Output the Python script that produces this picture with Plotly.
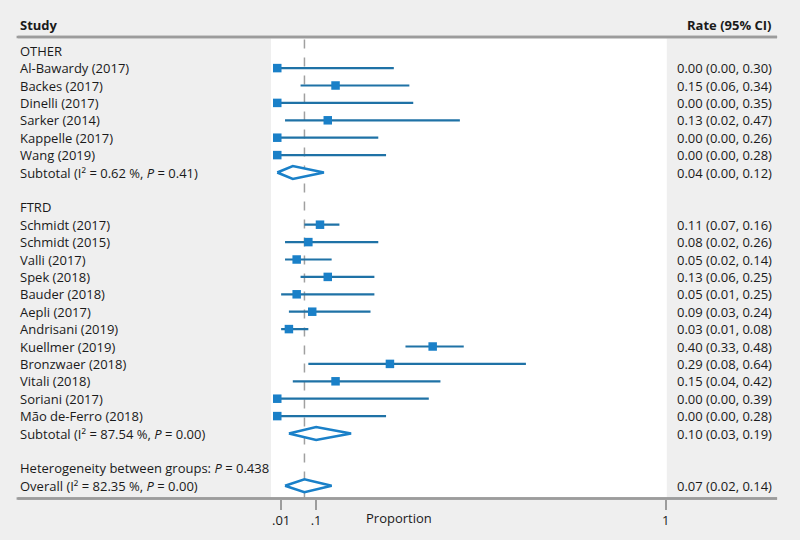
import plotly.graph_objects as go

# ---------------- data ----------------
other_studies = ["Al-Bawardy (2017)", "Backes (2017)", "Dinelli (2017)", "Sarker (2014)",
                 "Kappelle (2017)", "Wang (2019)"]
other_est = [0.00, 0.15, 0.00, 0.13, 0.00, 0.00]
other_lo = [0.00, 0.06, 0.00, 0.02, 0.00, 0.00]
other_hi = [0.30, 0.34, 0.35, 0.47, 0.26, 0.28]
other_sub = (0.04, 0.00, 0.12)
other_sub_label = "Subtotal (I² = 0.62 %, <i>P</i> = 0.41)"

ftrd_studies = ["Schmidt (2017)", "Schmidt (2015)", "Valli (2017)", "Spek (2018)", "Bauder (2018)",
                "Aepli (2017)", "Andrisani (2019)", "Kuellmer (2019)", "Bronzwaer (2018)",
                "Vitali (2018)", "Soriani (2017)", "Mão de-Ferro (2018)"]
ftrd_est = [0.11, 0.08, 0.05, 0.13, 0.05, 0.09, 0.03, 0.40, 0.29, 0.15, 0.00, 0.00]
ftrd_lo = [0.07, 0.02, 0.02, 0.06, 0.01, 0.03, 0.01, 0.33, 0.08, 0.04, 0.00, 0.00]
ftrd_hi = [0.16, 0.26, 0.14, 0.25, 0.25, 0.24, 0.08, 0.48, 0.64, 0.42, 0.39, 0.28]
ftrd_sub = (0.10, 0.03, 0.19)
ftrd_sub_label = "Subtotal (I² = 87.54 %, <i>P</i> = 0.00)"

heterogeneity_label = "Heterogeneity between groups: <i>P</i> = 0.438"
overall = (0.07, 0.02, 0.14)
overall_label = "Overall (I² = 82.35 %, <i>P</i> = 0.00)"

tick_vals = [0.01, 0.1, 1]
tick_text = [".01", ".1", "1"]

# ---------------- layout constants ----------------
W, H = 800, 540
FONT = "Open Sans"
TXT = "#1a1a1a"
BG = "#efefef"
LINE_C = "#1f72a6"
MARK_C = "#1a80c8"
RULE_C = "#9c9c9c"
FS = 13

def fmt(e, l, h):
    return f"{e:.2f} ({l:.2f}, {h:.2f})"

# build rows
rows = []  # (left label, right label, kind, est, lo, hi)
rows.append(("OTHER", "", "head", None, None, None))
for s, e, l, h in zip(other_studies, other_est, other_lo, other_hi):
    rows.append((s, fmt(e, l, h), "study", e, l, h))
rows.append((other_sub_label, fmt(*other_sub), "diamond", *other_sub))
rows.append(("", "", "blank", None, None, None))
rows.append(("FTRD", "", "head", None, None, None))
for s, e, l, h in zip(ftrd_studies, ftrd_est, ftrd_lo, ftrd_hi):
    rows.append((s, fmt(e, l, h), "study", e, l, h))
rows.append((ftrd_sub_label, fmt(*ftrd_sub), "diamond", *ftrd_sub))
rows.append(("", "", "blank", None, None, None))
rows.append((heterogeneity_label, "", "head", None, None, None))
rows.append((overall_label, fmt(*overall), "diamond", *overall))

sp = 17.4
top_px, bot_px = 38.5, 498.5
y_top = (top_px - 50.7) / sp
y_bot = (bot_px - 50.7) / sp

x0p, x1p = 272 / W, 669.3 / W
# x-axis linear: value 0 at 278.3px, 1 at 668.3px
px0, pxw = 278.3, 390.0
xr = [(272 - px0) / pxw, (669.3 - px0) / pxw]

fig = go.Figure()
fig.update_layout(
    width=W, height=H,
    margin=dict(l=0, r=0, t=0, b=0),
    paper_bgcolor=BG, plot_bgcolor="white",
    font=dict(family=FONT, size=FS, color=TXT),
    xaxis=dict(domain=[x0p, x1p], range=xr, showgrid=False, zeroline=False, showline=False,
               tickvals=tick_vals, ticktext=tick_text, ticks="outside", ticklen=10,
               tickwidth=1.5, tickcolor=RULE_C, tickfont=dict(family=FONT, size=FS, color=TXT),
               fixedrange=True),
    yaxis=dict(domain=[1 - bot_px / H, 1 - top_px / H], range=[y_bot, y_top],
               showgrid=False, zeroline=False, showline=False, showticklabels=False,
               ticks="", fixedrange=True),
)

# CI lines
cx, cy = [], []
mx, my = [], []
for i, r in enumerate(rows):
    if r[2] == "study":
        cx += [r[4], r[5], None]
        cy += [i, i, None]
        mx.append(r[3])
        my.append(i)
fig.add_trace(go.Scatter(x=cx, y=cy, mode="lines", line=dict(color=LINE_C, width=2.2),
                         hoverinfo="skip", showlegend=False, cliponaxis=False))
fig.add_trace(go.Scatter(x=mx, y=my, mode="markers",
                         marker=dict(symbol="square", size=8.5, color=MARK_C),
                         showlegend=False, cliponaxis=False))

# diamonds
hh = 0.37
for i, r in enumerate(rows):
    if r[2] == "diamond":
        e, l, h = r[3], r[4], r[5]
        fig.add_trace(go.Scatter(x=[l, e, h, e, l], y=[i, i - hh, i, i + hh, i],
                                 mode="lines", fill="toself", fillcolor="white",
                                 line=dict(color=MARK_C, width=2.6),
                                 showlegend=False, cliponaxis=False))

# texts
x_left = 18 / W
x_right = 777 / W
for i, r in enumerate(rows):
    if r[0]:
        fig.add_annotation(x=x_left, xref="paper", y=i, yref="y", text=r[0],
                           xanchor="left", yanchor="middle", showarrow=False,
                           font=dict(family=FONT, size=FS, color=TXT))
    if r[1]:
        fig.add_annotation(x=x_right, xref="paper", y=i, yref="y", text=r[1],
                           xanchor="right", yanchor="middle", showarrow=False,
                           font=dict(family=FONT, size=FS, color=TXT))

# headers
fig.add_annotation(x=x_left, xref="paper", y=1 - 25 / H, yref="paper", text="<b>Study</b>",
                   xanchor="left", yanchor="middle", showarrow=False,
                   font=dict(family=FONT, size=FS, color=TXT))
fig.add_annotation(x=x_right, xref="paper", y=1 - 25 / H, yref="paper", text="<b>Rate (95% CI)</b>",
                   xanchor="right", yanchor="middle", showarrow=False,
                   font=dict(family=FONT, size=FS, color=TXT))
fig.add_annotation(x=0.5, xref="paper", y=1 - 518 / H, yref="paper", text="Proportion",
                   xanchor="center", yanchor="middle", showarrow=False,
                   font=dict(family=FONT, size=FS, color=TXT))

# reference line at overall estimate
fig.add_shape(type="line", xref="x", yref="y domain", x0=overall[0], x1=overall[0],
              y0=0, y1=1, line=dict(color="#a0a0a0", width=1.5, dash="dash"), layer="below")

# header and bottom rules (shapes + arrow-lines for robustness)
for ypx in (37.0, 498.5):
    fig.add_shape(type="line", xref="paper", yref="paper", x0=18 / W, x1=780 / W,
                  y0=1 - ypx / H, y1=1 - ypx / H, line=dict(color=RULE_C, width=2.5))
    fig.add_annotation(x=780 / W, xref="paper", y=1 - ypx / H, yref="paper", text="",
                       showarrow=True, ax=-(780 - 18), ay=0, axref="pixel", ayref="pixel",
                       arrowhead=0, arrowwidth=2.5, arrowcolor=RULE_C,
                       standoff=0, startstandoff=0)

fig.write_html("out.html", config={"displayModeBar": False},
               post_script="document.body.style.margin='0';document.body.style.padding='0';"
                           "document.body.style.background='#efefef';")
